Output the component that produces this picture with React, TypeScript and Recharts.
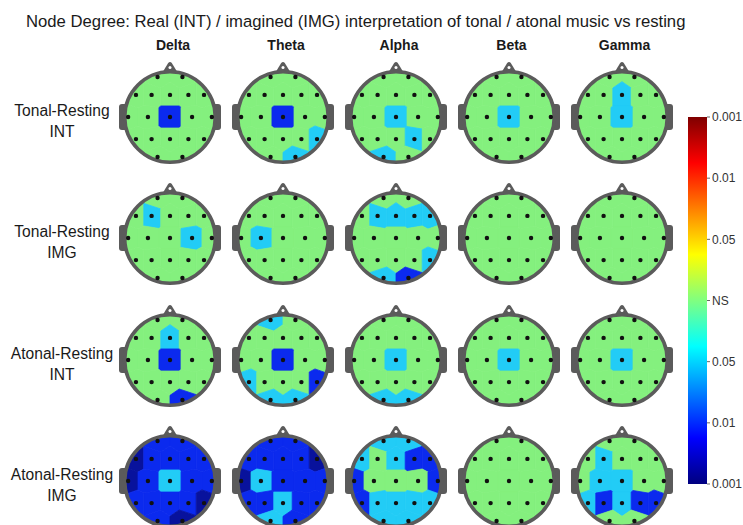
import React from 'react';
import { ScatterChart, Scatter, XAxis, YAxis, BarChart, Bar } from 'recharts';

const bands = ['Delta', 'Theta', 'Alpha', 'Beta', 'Gamma'];
const rowTitles = ['Tonal-Resting', 'Tonal-Resting', 'Atonal-Resting', 'Atonal-Resting'];
const rowModes = ['INT', 'IMG', 'INT', 'IMG'];
const barLabels = ['0.001', '0.01', '0.05', 'NS', '0.05', '0.01', '0.001'];

// 10-20 montage, head radius = 1, front is +y
const electrodes = ['Fp1', 'Fp2', 'F7', 'F3', 'Fz', 'F4', 'F8', 'T3', 'C3', 'Cz', 'C4', 'T4', 'T5', 'P3', 'Pz', 'P4', 'T6', 'O1', 'O2'];
const electrodeX = [-0.27, 0.27, -0.74, -0.4, 0, 0.4, 0.74, -0.91, -0.48, 0, 0.48, 0.91, -0.74, -0.4, 0, 0.4, 0.74, -0.27, 0.27];
const electrodeY = [0.87, 0.87, 0.48, 0.48, 0.48, 0.48, 0.48, 0, 0, 0, 0, 0, -0.48, -0.48, -0.48, -0.48, -0.48, -0.87, -0.87];

// 0 = NS, 1 = p<0.05, 2 = p<0.01, 3 = p<0.001 (decrease)
//   Fp1 Fp2 | F7 F3 Fz F4 F8 | T3 C3 Cz C4 T4 | T5 P3 Pz P4 T6 | O1 O2
const tonalINT = [
  [0, 0, 0, 0, 0, 0, 0, 0, 0, 2, 0, 0, 0, 0, 0, 0, 0, 0, 0],
  [0, 0, 0, 0, 0, 0, 0, 0, 0, 2, 0, 0, 0, 0, 0, 0, 1, 0, 1],
  [0, 0, 0, 0, 0, 0, 0, 0, 0, 1, 0, 0, 0, 0, 0, 1, 0, 1, 0],
  [0, 0, 0, 0, 0, 0, 0, 0, 0, 1, 0, 0, 0, 0, 0, 0, 0, 0, 0],
  [0, 0, 0, 0, 1, 0, 0, 0, 0, 1, 0, 0, 0, 0, 0, 0, 0, 0, 0],
];
const tonalIMG = [
  [0, 0, 0, 1, 0, 0, 0, 0, 0, 0, 1, 0, 0, 0, 0, 0, 0, 0, 0],
  [0, 0, 0, 0, 0, 0, 0, 0, 1, 0, 0, 0, 0, 0, 0, 0, 0, 0, 0],
  [0, 0, 0, 1, 1, 1, 1, 0, 0, 0, 0, 0, 0, 0, 0, 0, 1, 1, 2],
  [0, 0, 0, 0, 0, 0, 0, 0, 0, 0, 0, 0, 0, 0, 0, 0, 0, 0, 0],
  [0, 0, 0, 0, 0, 0, 0, 0, 0, 0, 0, 0, 0, 0, 0, 0, 0, 0, 0],
];
const atonalINT = [
  [0, 0, 0, 0, 1, 0, 0, 0, 0, 2, 0, 0, 0, 0, 0, 0, 0, 0, 2],
  [1, 0, 0, 0, 0, 0, 0, 0, 0, 2, 0, 0, 1, 0, 0, 0, 2, 1, 1],
  [0, 0, 0, 0, 0, 0, 0, 0, 0, 1, 0, 0, 0, 0, 0, 0, 0, 1, 1],
  [0, 0, 0, 0, 0, 0, 0, 0, 0, 1, 0, 0, 0, 0, 0, 0, 0, 0, 0],
  [0, 0, 0, 0, 0, 0, 0, 0, 0, 1, 0, 0, 0, 0, 0, 0, 0, 0, 0],
];
const atonalIMG = [
  [2, 2, 3, 2, 2, 2, 2, 3, 2, 1, 2, 2, 2, 2, 2, 2, 3, 2, 3],
  [2, 2, 2, 2, 2, 2, 3, 3, 1, 2, 2, 2, 2, 2, 1, 2, 2, 1, 2],
  [1, 1, 1, 0, 1, 2, 2, 2, 0, 0, 0, 2, 2, 1, 1, 1, 1, 1, 1],
  [0, 0, 0, 0, 0, 0, 0, 0, 0, 0, 0, 0, 0, 0, 0, 0, 0, 0, 0],
  [0, 0, 0, 1, 0, 0, 0, 0, 1, 1, 0, 0, 1, 2, 1, 2, 2, 0, 0],
];
const rows = [tonalINT, tonalIMG, atonalINT, atonalIMG];

const levelColors = ['#84F07E', '#22CCF6', '#0B2AEE', '#08129C'];
const ringColor = '#5b5b5b';
const font = '"Liberation Sans", Arial, sans-serif';

// layout
const S = 46; // px per head-radius unit
const HALF = 56;
const D = HALF / S;
const colX = [170, 283, 396, 508.5, 621.5];
const rowY = [117, 238, 360, 481];

type Pt = [number, number];

// keep a*x + b*y <= c
const clipHalf = (poly: Pt[], a: number, b: number, c: number): Pt[] => {
  const out: Pt[] = [];
  for (let i = 0; i < poly.length; i++) {
    const p = poly[i];
    const q = poly[(i + 1) % poly.length];
    const fp = a * p[0] + b * p[1] - c;
    const fq = a * q[0] + b * q[1] - c;
    if (fp <= 0) out.push(p);
    if ((fp < 0 && fq > 0) || (fp > 0 && fq < 0)) {
      const t = fp / (fp - fq);
      out.push([p[0] + t * (q[0] - p[0]), p[1] + t * (q[1] - p[1])]);
    }
  }
  return out;
};

// nearest-electrode cells inside the scalp outline
const scalp: Pt[] = Array.from({ length: 90 }, (_, k) => {
  const a = (k / 90) * Math.PI * 2;
  return [0.965 * Math.cos(a), 0.965 * Math.sin(a)] as Pt;
});
const cells: Pt[][] = electrodes.map((_, i) => {
  let poly = scalp;
  electrodes.forEach((__, j) => {
    if (i === j) return;
    const a = electrodeX[j] - electrodeX[i];
    const b = electrodeY[j] - electrodeY[i];
    const c = (electrodeX[j] ** 2 + electrodeY[j] ** 2 - electrodeX[i] ** 2 - electrodeY[i] ** 2) / 2;
    poly = clipHalf(poly, a, b, c);
  });
  return poly;
});

const CellShape = (props: any) => {
  const { cx, cy, payload } = props;
  const poly = cells[payload.index];
  const d =
    poly
      .map(([x, y], k) => `${k ? 'L' : 'M'}${(cx + (x - payload.x) * S).toFixed(2)},${(cy - (y - payload.y) * S).toFixed(2)}`)
      .join('') + 'Z';
  const color = levelColors[payload.level];
  return <path d={d} fill={color} stroke={color} strokeWidth={0.8} strokeLinejoin="round" />;
};

const HeadBack = (props: any) => {
  const { cx, cy } = props;
  return (
    <g>
      <rect x={cx - 51} y={cy - 13} width={10} height={26} rx={3} fill={ringColor} />
      <rect x={cx + 41} y={cy - 13} width={10} height={26} rx={3} fill={ringColor} />
      <path
        d={`M${cx - 8.5},${cy - 43} L${cx - 1.8},${cy - 54} Q${cx},${cy - 56} ${cx + 1.8},${cy - 54} L${cx + 8.5},${cy - 43} Z`}
        fill={ringColor}
      />
      <circle cx={cx} cy={cy - 49.5} r={1.5} fill="#fff" />
    </g>
  );
};

const HeadRing = (props: any) => {
  const { cx, cy } = props;
  return <circle cx={cx} cy={cy} r={45.3} fill="none" stroke={ringColor} strokeWidth={3.6} />;
};

const Dot = (props: any) => <circle cx={props.cx} cy={props.cy} r={2.2} fill="#111" />;

const Head = ({ levels }: { levels: number[] }) => {
  const data = electrodes.map((name, i) => ({ name, x: electrodeX[i], y: electrodeY[i], level: levels[i], index: i }));
  const center = [{ x: 0, y: 0 }];
  return (
    <ScatterChart width={HALF * 2} height={HALF * 2} margin={{ top: 0, right: 0, bottom: 0, left: 0 }}>
      <XAxis type="number" dataKey="x" domain={[-D, D]} hide />
      <YAxis type="number" dataKey="y" domain={[-D, D]} hide />
      <Scatter data={center} shape={HeadBack} isAnimationActive={false} />
      <Scatter data={data} shape={CellShape} isAnimationActive={false} />
      <Scatter data={center} shape={HeadRing} isAnimationActive={false} />
      <Scatter data={data} shape={Dot} isAnimationActive={false} />
    </ScatterChart>
  );
};

const barData = [{ name: 'scale', v: 6 }];

const ColorBar = () => (
  <BarChart width={55} height={383} data={barData} margin={{ top: 8, right: 0, bottom: 8, left: 0 }} barCategoryGap={0}>
    <defs>
      <linearGradient id="jet" x1="0" y1="0" x2="0" y2="1">
        <stop offset="0" stopColor="#7F0000" />
        <stop offset="0.125" stopColor="#FF0000" />
        <stop offset="0.375" stopColor="#FFFF00" />
        <stop offset="0.5" stopColor="#80FF80" />
        <stop offset="0.625" stopColor="#00FFFF" />
        <stop offset="0.875" stopColor="#0000FF" />
        <stop offset="1" stopColor="#00007F" />
      </linearGradient>
    </defs>
    <XAxis dataKey="name" hide />
    <YAxis
      orientation="right"
      domain={[0, 6]}
      ticks={[0, 1, 2, 3, 4, 5, 6]}
      tickFormatter={(v: number) => barLabels[6 - v]}
      width={36}
      axisLine={false}
      tickSize={3}
      tickLine={{ stroke: '#666' }}
      tick={{ fontSize: 12, fill: '#333', fontFamily: font }}
    />
    <Bar dataKey="v" fill="url(#jet)" isAnimationActive={false} />
  </BarChart>
);

export default function App() {
  return (
    <div style={{ position: 'absolute', left: 0, top: 0, width: 743, height: 525, overflow: 'hidden', background: '#fff', fontFamily: font, color: '#1a1a1a' }}>
      <div style={{ position: 'absolute', left: 26, top: 11, fontSize: 16.7, lineHeight: '22px', whiteSpace: 'nowrap' }}>
        Node Degree: Real (INT) / imagined (IMG) interpretation of tonal / atonal music vs resting
      </div>
      {bands.map((b, c) => (
        <div key={b} style={{ position: 'absolute', left: colX[c] - 50 + 3, top: 36, width: 100, textAlign: 'center', fontSize: 14, fontWeight: 'bold', lineHeight: '18px' }}>
          {b}
        </div>
      ))}
      {rowTitles.map((t, r) => (
        <div key={r} style={{ position: 'absolute', left: 0, top: rowY[r] - 17, width: 124, textAlign: 'center', fontSize: 15.6, lineHeight: '21px' }}>
          <div>{t}</div>
          <div>{rowModes[r]}</div>
        </div>
      ))}
      {rows.map((row, r) =>
        row.map((levels, c) => (
          <div key={`${r}-${c}`} style={{ position: 'absolute', left: colX[c] - HALF, top: rowY[r] - HALF }}>
            <Head levels={levels} />
          </div>
        ))
      )}
      <div style={{ position: 'absolute', left: 688, top: 109 }}>
        <ColorBar />
      </div>
    </div>
  );
}
